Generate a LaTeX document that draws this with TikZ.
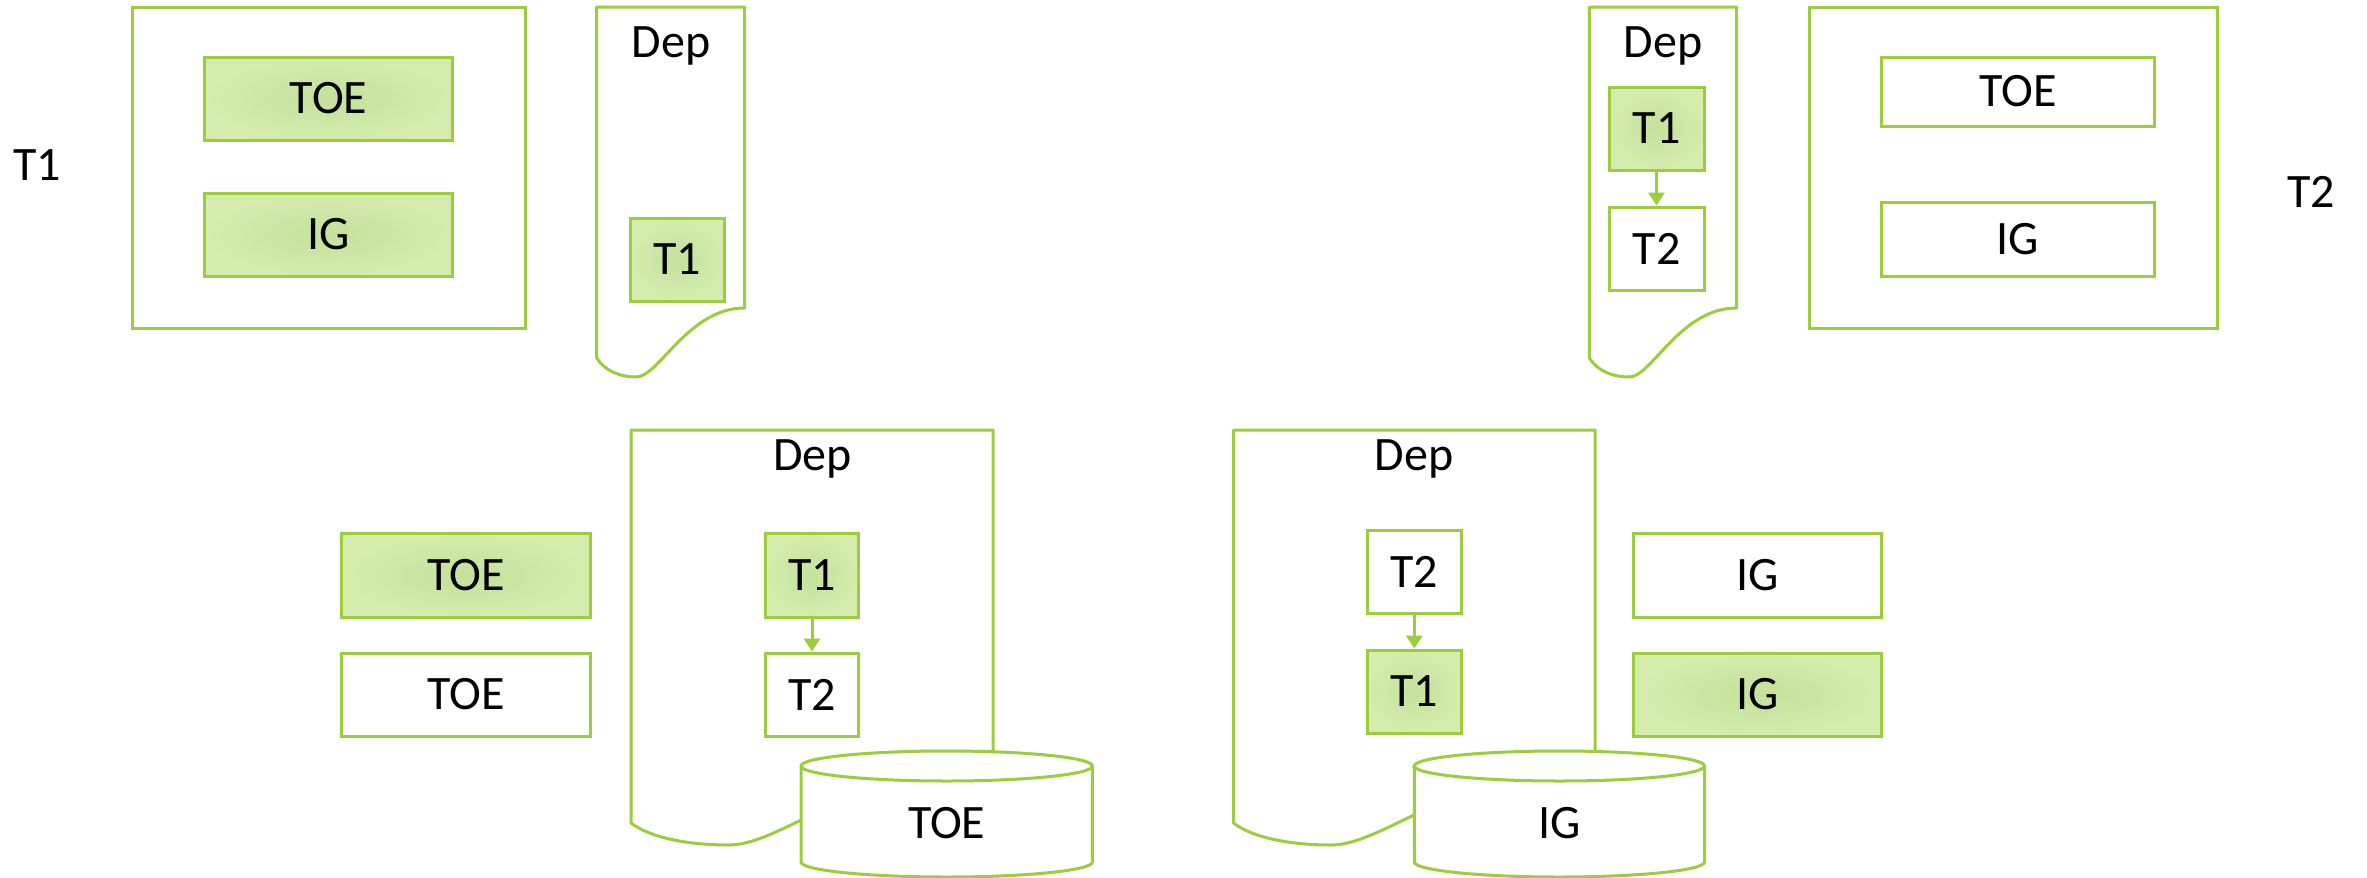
\documentclass[tikz,border=0pt]{standalone}
\usepackage{fontspec}
\setmainfont{Carlito}
\usetikzlibrary{arrows.meta}
\definecolor{lime}{RGB}{155,205,60}
\definecolor{gin}{RGB}{196,225,156}
\definecolor{gout}{RGB}{212,237,174}
\tikzset{
  edge/.style={draw=lime, line width=3pt},
  tag/.style={font=\fontsize{48}{57}\selectfont, inner sep=0pt},
  wbox/.style={rectangle, edge, fill=white, tag},
  gbox/.style={rectangle, edge, shading=radial, inner color=gin, outer color=gout, tag},
  frame/.style={rectangle, edge, inner sep=0pt},
  docline/.style={edge, fill=white, line join=round},
  flow/.style={draw=lime, line width=3pt, -{Triangle[length=13pt,width=16pt]}},
}
\begin{document}
\begin{tikzpicture}[x=1pt, y=-1pt]
\useasboundingbox (0,0) rectangle (2367,878);

% ---- stage T1 ----
\node[tag] (lblA) at (37,165) {T1};
\node[frame, minimum width=393pt, minimum height=321pt] (ctxA) at (328.5,167.5) {};
\node[gbox, minimum width=248pt, minimum height=83pt] (toeA) at (328.6,98.5) {TOE};
\node[gbox, minimum width=248pt, minimum height=83pt] (igA) at (328.6,234.5) {IG};

\draw[docline] (596.7,7) -- (744.5,7) -- (744.5,308)
  .. controls (688.3,308) and (658.8,377) .. (636.3,377)
  .. controls (618.9,377) and (604.1,370) .. (596.7,358) -- cycle;
\node[tag, anchor=base] (depA) at (671,57) {Dep};
\node[gbox, minimum width=94pt, minimum height=83pt] (tA) at (677.2,259.5) {T1};

% ---- stage T2 ----
\draw[docline] (1589.3,7) -- (1736.5,7) -- (1736.5,308)
  .. controls (1680.6,308) and (1651.1,377) .. (1629.5,377)
  .. controls (1611.4,377) and (1596.7,370) .. (1589.3,358) -- cycle;
\node[tag, anchor=base] (depB) at (1663,57) {Dep};
\node[gbox, minimum width=95pt, minimum height=83pt] (tB1) at (1656.5,128.5) {T1};
\node[wbox, minimum width=95pt, minimum height=83pt] (tB2) at (1656.5,248.5) {T2};
\draw[flow] (tB1.south) -- (tB2.north);

\node[frame, minimum width=408pt, minimum height=321pt] (ctxB) at (2013.7,167.5) {};
\node[wbox, minimum width=273pt, minimum height=69pt] (toeB) at (2018,91.5) {TOE};
\node[wbox, minimum width=273pt, minimum height=74pt] (igB) at (2018,239) {IG};
\node[tag] (lblB) at (2311,192) {T2};

% ---- TOE merge ----
\node[gbox, minimum width=248.5pt, minimum height=84pt] (toeC1) at (466,575) {TOE};
\node[wbox, minimum width=248.5pt, minimum height=83pt] (toeC2) at (466,694.5) {TOE};

\draw[docline] (631,430) -- (993,430) -- (993,768)
  .. controls (855.4,768) and (783,845) .. (728.7,845)
  .. controls (685.3,845) and (649.1,837) .. (631,823) -- cycle;
\node[tag, anchor=base] (depC) at (812.5,470) {Dep};
\node[gbox, minimum width=93pt, minimum height=84pt] (tC1) at (812,575) {T1};
\node[wbox, minimum width=93pt, minimum height=83pt] (tC2) at (812,694.5) {T2};
\draw[flow] (tC1.south) -- (tC2.north);

\draw[edge, fill=white] (801,766) -- (801,862)
  arc[start angle=180, end angle=360, x radius=145.7pt, y radius=15pt]
  -- (1092.4,766)
  arc[start angle=0, end angle=180, x radius=145.7pt, y radius=15pt] -- cycle;
\draw[edge] (801,766) arc[start angle=180, end angle=360, x radius=145.7pt, y radius=15pt];
\node[tag] (dbC) at (946.7,823) {TOE};

% ---- IG merge ----
\draw[docline] (1233.5,430) -- (1595,430) -- (1595,768)
  .. controls (1457.6,768) and (1385.3,845) .. (1331.1,845)
  .. controls (1287.7,845) and (1251.6,837) .. (1233.5,823) -- cycle;
\node[tag, anchor=base] (depD) at (1414,470) {Dep};
\node[wbox, minimum width=94pt, minimum height=83pt] (tD2) at (1414.3,571.5) {T2};
\node[gbox, minimum width=94pt, minimum height=83pt] (tD1) at (1414.3,691.5) {T1};
\draw[flow] (tD2.south) -- (tD1.north);

\draw[edge, fill=white] (1414.3,766) -- (1414.3,862)
  arc[start angle=180, end angle=360, x radius=145.1pt, y radius=15pt]
  -- (1704.5,766)
  arc[start angle=0, end angle=180, x radius=145.1pt, y radius=15pt] -- cycle;
\draw[edge] (1414.3,766) arc[start angle=180, end angle=360, x radius=145.1pt, y radius=15pt];
\node[tag] (dbD) at (1559.4,823) {IG};

\node[wbox, minimum width=248.7pt, minimum height=84pt] (igD1) at (1757.4,575) {IG};
\node[gbox, minimum width=248.7pt, minimum height=83pt] (igD2) at (1757.4,694.5) {IG};
\end{tikzpicture}
\end{document}
